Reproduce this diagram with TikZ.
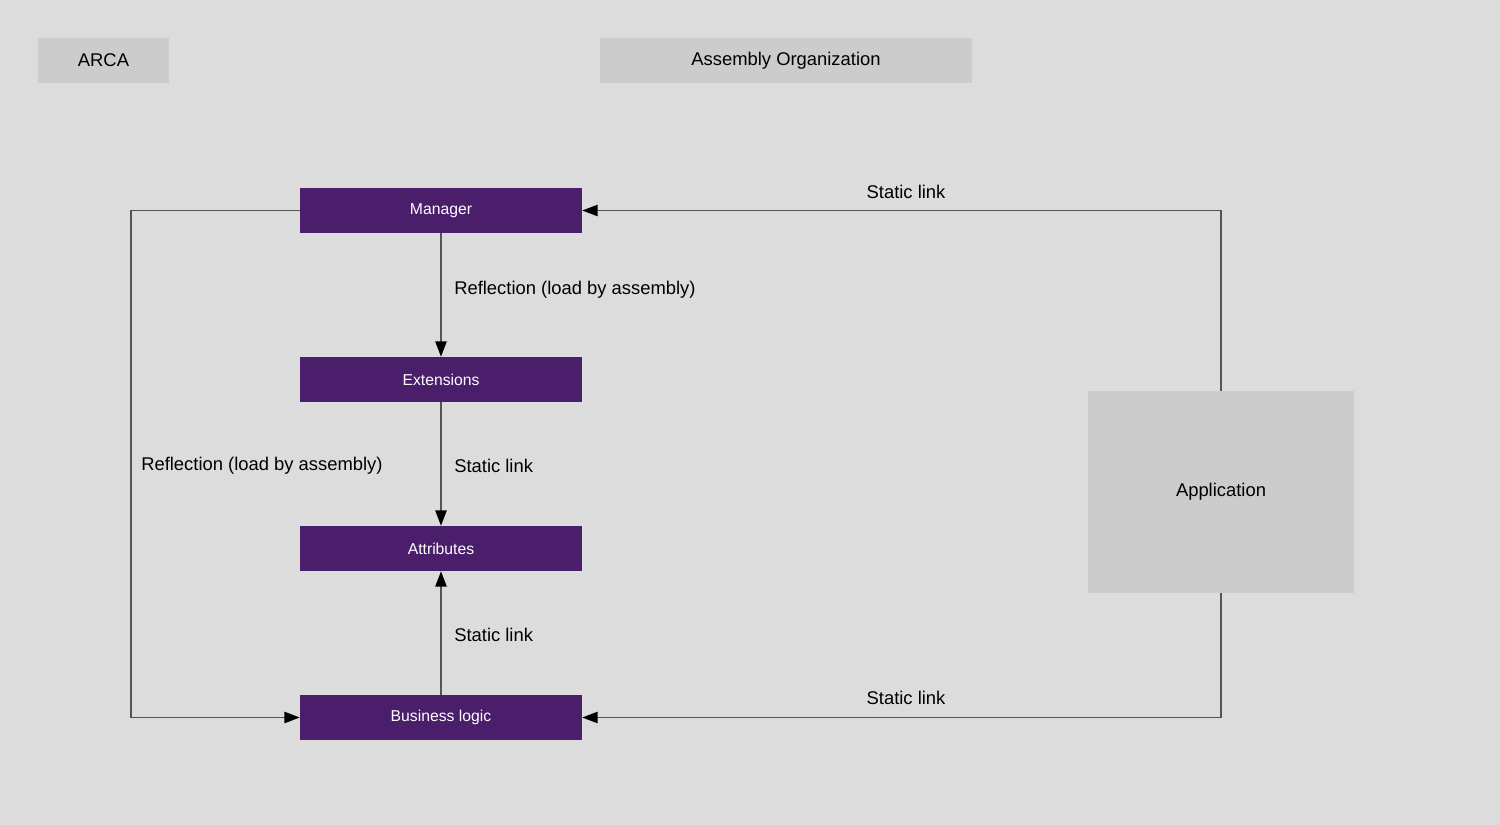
\documentclass[tikz,border=0pt]{standalone}
\usepackage{fontspec}
\setmainfont{Liberation Sans}
\usetikzlibrary{arrows.meta}
\definecolor{bg}{HTML}{DCDCDC}
\definecolor{gbox}{HTML}{CCCCCC}
\definecolor{purp}{HTML}{4B1E6B}
\definecolor{wire}{HTML}{555555}
\tikzset{
  graybox/.style={fill=gbox, draw=none, inner sep=0pt, font=\fontsize{13.8}{16}\selectfont, text=black},
  purpbox/.style={fill=purp, draw=none, inner sep=0pt, minimum width=211.5pt, minimum height=33.75pt, font=\fontsize{11.8}{14}\selectfont, text=white},
  conn/.style={draw=wire, line width=1pt, -{Triangle[length=11.5pt,width=8.5pt,fill=black,color=black]}},
  lbl/.style={font=\fontsize{13.8}{16}\selectfont, inner sep=0pt, text=black}
}
\begin{document}
\begin{tikzpicture}[x=0.75pt,y=-0.75pt]
\useasboundingbox (0,0) rectangle (1500,825);
\fill[bg] (0,0) rectangle (1500,825);
\node[graybox, minimum width=98.25pt, minimum height=33.75pt] (arca) at (103.5,60.5) {ARCA};
\node[graybox, minimum width=279pt, minimum height=33.75pt] (asm) at (786,60.5) {Assembly Organization};
\node[purpbox] (mgr) at (441,210.5) {Manager};
\node[purpbox] (ext) at (441,379.5) {Extensions};
\node[purpbox] (attr) at (441,548.5) {Attributes};
\node[purpbox] (bl) at (441,717.5) {Business logic};
\node[graybox, minimum width=199.5pt, minimum height=151.5pt] (app) at (1221,492) {Application};
\coordinate (lt) at (131,210.5);
\coordinate (lb) at (131,717.5);
\coordinate (rt) at (1221,210.5);
\coordinate (rb) at (1221,717.5);
\draw[conn] (mgr.west) -- (lt) -- (lb) -- (bl.west);
\draw[conn] (mgr.south) -- (ext.north);
\draw[conn] (ext.south) -- (attr.north);
\draw[conn] (bl.north) -- (attr.south);
\draw[conn] (app.north) -- (rt) -- (mgr.east);
\draw[conn] (app.south) -- (rb) -- (bl.east);
\node[lbl, anchor=west] (l1) at (141,466) {Reflection (load by assembly)};
\node[lbl, anchor=west] (l2) at (454,290) {Reflection (load by assembly)};
\node[lbl, anchor=west] (l3) at (454,466) {Static link};
\node[lbl, anchor=west] (l4) at (454,635) {Static link};
\node[lbl] (l5) at (906,192) {Static link};
\node[lbl] (l6) at (906,698) {Static link};
\end{tikzpicture}
\end{document}
